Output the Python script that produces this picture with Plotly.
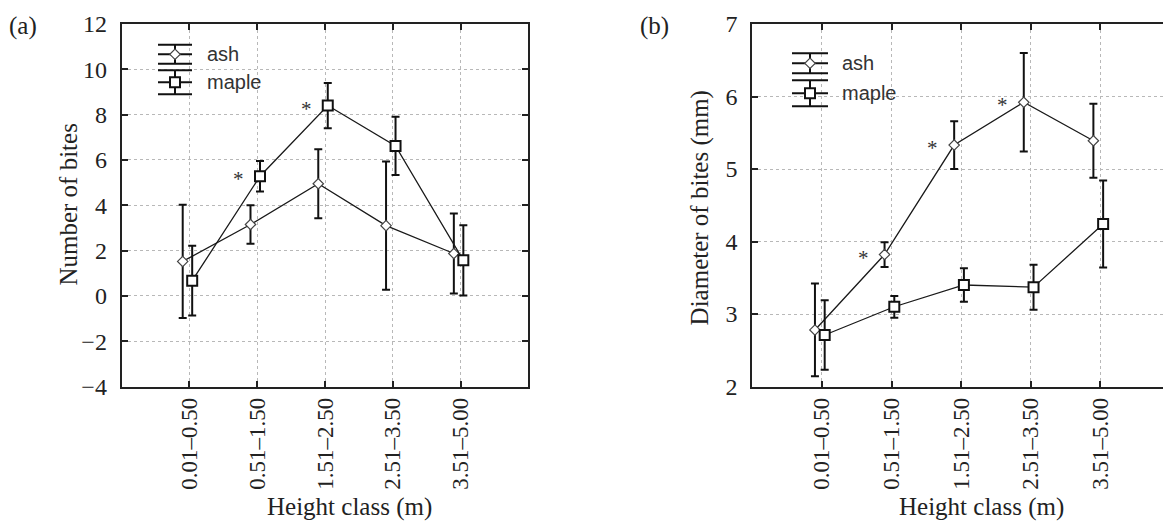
import plotly.graph_objects as go

# ---------------- data ----------------
categories = ["0.01–0.50", "0.51–1.50", "1.51–2.50", "2.51–3.50", "3.51–5.00"]

# panel (a): number of bites
a_ash_mean = [1.52, 3.15, 4.95, 3.10, 1.87]
a_ash_err = [2.50, 0.85, 1.52, 2.83, 1.77]
a_maple_mean = [0.67, 5.28, 8.40, 6.62, 1.57]
a_maple_err = [1.54, 0.67, 1.00, 1.29, 1.55]
a_sig = [("maple", 1), ("maple", 2)]

# panel (b): diameter of bites (mm)
b_ash_mean = [2.78, 3.82, 5.33, 5.92, 5.39]
b_ash_err = [0.64, 0.17, 0.33, 0.68, 0.51]
b_maple_mean = [2.71, 3.10, 3.40, 3.37, 4.24]
b_maple_err = [0.48, 0.15, 0.23, 0.31, 0.60]
b_sig = [("ash", 1), ("ash", 2), ("ash", 3)]

a_yticks = [-4, -2, 0, 2, 4, 6, 8, 10, 12]
b_yticks = [2, 3, 4, 5, 6, 7]

# ---------------- layout constants ----------------
W, H = 1163, 523
TOP, BOT = 24, 386.5
A_L, A_R = 121.7, 528.4
B_L, B_R = 752.3, 1163
A_XR = [0, 6.0]
B_XR = [0, 5.9]
A_YR = [-4, 12]
B_YR = [2, 7]
ASH_OFF, MAPLE_OFF = -0.1, 0.04

SERIF = "Liberation Serif"
SANS = "Liberation Sans"
LINE_C = "#1a1a1a"
YTICK_SIZE = 24
XTICK_SIZE = 23
TITLE_SIZE = 25


def fx(p):
    return p / W


def fy(p):
    return 1 - p / H


def px2data(X, Y, left, right, xr, yr):
    x = xr[0] + (X - left) / (right - left) * (xr[1] - xr[0])
    y = yr[1] - (Y - TOP) / (BOT - TOP) * (yr[1] - yr[0])
    return x, y


fig = go.Figure()

panels = [
    dict(xa="x", ya="y", ash=(a_ash_mean, a_ash_err), maple=(a_maple_mean, a_maple_err),
         sig=a_sig, left=A_L, right=A_R, xr=A_XR, yr=A_YR),
    dict(xa="x2", ya="y2", ash=(b_ash_mean, b_ash_err), maple=(b_maple_mean, b_maple_err),
         sig=b_sig, left=B_L, right=B_R, xr=B_XR, yr=B_YR),
]

ash_marker = dict(symbol="diamond", size=8, color="white", line=dict(color="#444", width=1.2))
maple_marker = dict(symbol="square", size=10, color="white", line=dict(color="#111", width=2))

annotations = []
for p in panels:
    series = {}
    for name, (mean, err), off, mk in [("ash", p["ash"], ASH_OFF, ash_marker),
                                       ("maple", p["maple"], MAPLE_OFF, maple_marker)]:
        xs = [i + 1 + off for i in range(len(mean))]
        series[name] = (xs, mean)
        fig.add_trace(go.Scatter(
            x=xs, y=mean, mode="lines+markers", xaxis=p["xa"], yaxis=p["ya"],
            line=dict(color=LINE_C, width=1.3), marker=mk,
            error_y=dict(type="data", array=err, visible=True, color="#111",
                         thickness=2, width=4),
            showlegend=False, hoverinfo="skip"))
    # significance asterisks
    for name, idx in p["sig"]:
        xs, ys = series[name]
        annotations.append(dict(x=xs[idx] - 0.2, y=ys[idx], xref=p["xa"], yref=p["ya"],
                                text="*", showarrow=False, xanchor="right", yanchor="middle",
                                yshift=-3, font=dict(family=SERIF, size=21, color="#333")))

# ---------------- custom legends ----------------
legend_items = [
    dict(p=panels[0], ash=(175, 54.3), maple=(175, 82.3), hw=17, dh=(9.5, 12)),
    dict(p=panels[1], ash=(810, 63.3), maple=(810, 93.3), hw=18, dh=(10, 13)),
]
for L in legend_items:
    p = L["p"]
    for name, mk, dhp in [("ash", ash_marker, L["dh"][0]), ("maple", maple_marker, L["dh"][1])]:
        X, Y = L[name]
        x0, y0 = px2data(X, Y, p["left"], p["right"], p["xr"], p["yr"])
        xa_, _ = px2data(X - L["hw"], Y, p["left"], p["right"], p["xr"], p["yr"])
        xb_, _ = px2data(X + L["hw"], Y, p["left"], p["right"], p["xr"], p["yr"])
        _, yt = px2data(X, Y - dhp, p["left"], p["right"], p["xr"], p["yr"])
        fig.add_trace(go.Scatter(x=[xa_, xb_], y=[y0, y0], mode="lines", xaxis=p["xa"], yaxis=p["ya"],
                                 line=dict(color="#111", width=2), showlegend=False, hoverinfo="skip"))
        fig.add_trace(go.Scatter(x=[x0], y=[y0], mode="markers", xaxis=p["xa"], yaxis=p["ya"],
                                 marker=mk, showlegend=False, hoverinfo="skip",
                                 error_y=dict(type="data", array=[yt - y0], visible=True,
                                              color="#111", thickness=2, width=L["hw"])))
        annotations.append(dict(x=fx(X + 30), y=fy(Y), xref="paper", yref="paper", text=name,
                                showarrow=False, xanchor="left", yanchor="middle",
                                font=dict(family=SANS, size=20, color="#333")))

# ---------------- titles / labels ----------------
def label(xp, yp, text, angle=0):
    return dict(x=fx(xp), y=fy(yp), xref="paper", yref="paper", text=text, textangle=angle,
                showarrow=False, xanchor="center", yanchor="middle",
                font=dict(family=SERIF, size=TITLE_SIZE, color="#222"))


annotations += [
    label(22.5, 26.5, "(a)"),
    label(654, 26.5, "(b)"),
    label(67.6, 205, "Number of bites", -90),
    label(700.4, 208, "Diameter of bites (mm)", -90),
    label(349, 507, "Height class (m)"),
    label(981.7, 507, "Height class (m)"),
]

grid = dict(showgrid=True, gridcolor="#b8b8b8", griddash="dot", gridwidth=1, zeroline=False)
axis_common = dict(showline=True, linecolor="#222", linewidth=2, ticks="inside", ticklen=6,
                   tickwidth=2, tickcolor="#222", automargin=False, **grid)

xcommon = dict(tickmode="array", tickvals=list(range(1, len(categories) + 1)), ticktext=categories,
               tickangle=-90, tickfont=dict(family=SERIF, size=XTICK_SIZE, color="#222"),
               **axis_common)
yfont = dict(family=SERIF, size=YTICK_SIZE, color="#222")

fig.update_layout(
    width=W, height=H, margin=dict(l=0, r=0, t=0, b=0, autoexpand=False),
    paper_bgcolor="white", plot_bgcolor="white", showlegend=False,
    xaxis=dict(domain=[fx(A_L), fx(A_R)], range=A_XR, anchor="y", mirror="ticks", **xcommon),
    yaxis=dict(domain=[fy(BOT), fy(TOP)], range=A_YR, anchor="x", mirror="ticks",
               tickmode="array", tickvals=a_yticks, ticklabelstandoff=8, tickfont=yfont,
               **axis_common),
    xaxis2=dict(domain=[fx(B_L), 1.0], range=B_XR, anchor="y2", mirror="ticks", **xcommon),
    yaxis2=dict(domain=[fy(BOT), fy(TOP)], range=B_YR, anchor="x2", mirror=False,
                tickmode="array", tickvals=b_yticks, ticklabelstandoff=8, tickfont=yfont,
                **axis_common),
    annotations=annotations,
)

fig.write_html("out.html", config={"displayModeBar": False},
               post_script="document.body.style.margin='0';document.body.style.overflow='hidden';")
